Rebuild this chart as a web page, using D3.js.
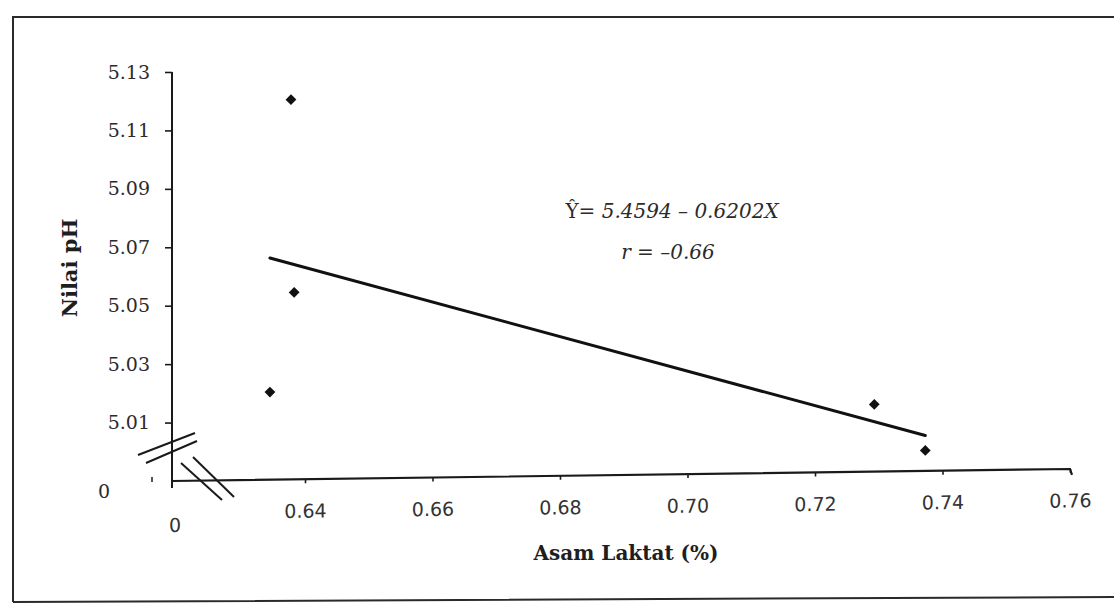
<!DOCTYPE html>
<html>
<head>
<meta charset="utf-8">
<script src="https://cdn.jsdelivr.net/npm/d3@7"></script>
<style>
  body { margin: 0; background: #fff; }
  svg { display: block; }
  .axis line, .axis path { stroke: #1a1a1a; }
  .axis--y text { font-family: "DejaVu Serif", serif; font-size: 19px; fill: #2b2b2b; }
  .axis--x text { font-family: "DejaVu Sans", sans-serif; font-size: 19px; fill: #333; }
  .axis-label { font-family: "DejaVu Serif", serif; font-weight: bold; fill: #1e1e1e; }
  .eq { font-family: "DejaVu Serif", serif; font-style: italic; font-size: 20px; fill: #2b2b2b; }
</style>
</head>
<body>
<svg id="chart" width="1114" height="612"></svg>
<script>
// data
const lacticAcid = [0.6378, 0.6383, 0.6345, 0.7293, 0.7373]
const phValue = [5.120, 5.054, 5.020, 5.013, 4.997]
const xTicks = [0.64, 0.66, 0.68, 0.70, 0.72, 0.74, 0.76]
const yTicks = [5.01, 5.03, 5.05, 5.07, 5.09, 5.11, 5.13]
const intercept = 5.4594
const slope = -0.6202
const rValue = -0.66
const xLabel = 'Asam Laktat (%)'
const yLabel = 'Nilai pH'

const svg = d3.select('#chart')
const origin = {x: 172, y: 481}

// axis break: the "0" of each axis sits one step below the first tick
const x = d3.scaleLinear().domain([0.62, 0.76]).range([177.5, 1070])
const y = d3.scaleLinear().domain([4.99, 5.13]).range([origin.y, 72])

// frame
svg.append('path')
  .attr('d', 'M13,602 L13,17 L1114,17 M13,602 L1114,597')
  .attr('fill', 'none')
  .attr('stroke', '#2a2a2a')
  .attr('stroke-width', 2)

// the scan is slightly sheared, everything right of the y axis drifts up
const k = 12 / 898
const plot = svg.append('g')
  .attr('transform', `translate(0, ${origin.x * k}) skewY(${-Math.atan(k) * 180 / Math.PI})`)

// y axis
const yAxis = svg.append('g')
  .attr('class', 'axis axis--y')
  .attr('transform', `translate(${origin.x}, 0)`)
  .call(d3.axisLeft(y).tickValues(yTicks).tickSize(7).tickPadding(15).tickFormat(d3.format('.2f')))
yAxis.select('.domain').remove()
yAxis.selectAll('line').attr('stroke-width', 1.6)
yAxis.append('line')
  .attr('y1', y(5.13)).attr('y2', origin.y + 7)
  .attr('stroke', '#1a1a1a').attr('stroke-width', 2)
yAxis.append('text')
  .attr('x', -68).attr('y', origin.y + 17)
  .attr('text-anchor', 'middle')
  .text('0')
yAxis.append('line')
  .attr('x1', -20).attr('x2', -20).attr('y1', origin.y - 4).attr('y2', origin.y + 1)
  .attr('stroke-width', 1.5)

// x axis
const xAxis = plot.append('g')
  .attr('class', 'axis axis--x')
  .attr('transform', `translate(0, ${origin.y})`)
  .call(d3.axisBottom(x).tickValues(xTicks).tickSize(4).tickPadding(21).tickFormat(d3.format('.2f')))
xAxis.select('.domain').remove()
xAxis.selectAll('line').attr('stroke-width', 1.6)
xAxis.append('path')
  .attr('d', `M${origin.x},0 L${x(0.76)},0 L${x(0.76) + 2},6`)
  .attr('fill', 'none')
  .attr('stroke-width', 2.2)
xAxis.append('text')
  .attr('x', origin.x + 3).attr('y', 51)
  .attr('text-anchor', 'middle')
  .text('0')

// break marks on both axes
const breaks = svg.append('g')
  .attr('stroke', '#1a1a1a')
  .attr('stroke-width', 2)
breaks.selectAll('.brk-y')
  .data([0, 8])
  .enter()
  .append('line')
  .attr('x1', (d) => origin.x - 34 + d)
  .attr('y1', (d) => origin.y - 26 + d)
  .attr('x2', (d) => origin.x + 23 + d / 4)
  .attr('y2', (d) => origin.y - 48 + d)
breaks.selectAll('.brk-x')
  .data([0, 12])
  .enter()
  .append('line')
  .attr('x1', (d) => origin.x + 9 + d)
  .attr('y1', (d) => origin.y - 18 - d / 2)
  .attr('x2', (d) => origin.x + 50 + d)
  .attr('y2', (d) => origin.y + 19 - d / 4)

// regression line
const xExtent = d3.extent(lacticAcid)
plot.append('line')
  .attr('x1', x(xExtent[0]))
  .attr('y1', y(intercept + slope * xExtent[0]))
  .attr('x2', x(xExtent[1]))
  .attr('y2', y(intercept + slope * xExtent[1]))
  .attr('stroke', '#111')
  .attr('stroke-width', 3)
  .attr('stroke-linecap', 'round')

// points
const diamond = d3.symbol().type(d3.symbolSquare).size(58)
plot.selectAll('.pt')
  .data(lacticAcid.map((v, i) => [v, phValue[i]]))
  .enter()
  .append('path')
  .attr('class', 'pt')
  .attr('d', diamond)
  .attr('transform', (d) => `translate(${x(d[0])}, ${y(d[1])}) rotate(45)`)
  .attr('fill', '#111')

// equation
const eq = svg.append('text')
  .attr('class', 'eq')
  .attr('x', 672).attr('y', 218)
  .attr('text-anchor', 'middle')
eq.append('tspan').attr('font-style', 'normal').text('Ŷ= ')
eq.append('tspan').text(` ${intercept.toFixed(4)} \u2013 ${Math.abs(slope).toFixed(4)}X`)
svg.append('text')
  .attr('class', 'eq')
  .attr('x', 668).attr('y', 259)
  .attr('text-anchor', 'middle')
  .text(`r = \u2013${Math.abs(rValue).toFixed(2)}`)

// axis titles
svg.append('text')
  .attr('class', 'axis-label')
  .attr('x', 626).attr('y', 560)
  .attr('text-anchor', 'middle')
  .attr('font-size', 20)
  .text(xLabel)
svg.append('text')
  .attr('class', 'axis-label')
  .attr('transform', 'translate(77, 268) rotate(-90)')
  .attr('text-anchor', 'middle')
  .attr('font-size', 21)
  .text(yLabel)
</script>
</body>
</html>
